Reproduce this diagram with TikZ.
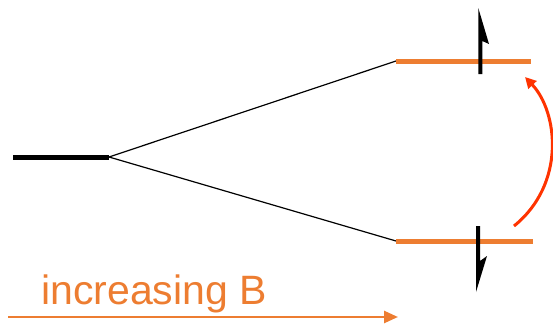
\documentclass[tikz,border=0pt]{standalone}
\usepackage{fontspec}
\setmainfont{Liberation Sans}
\usetikzlibrary{arrows.meta}
\definecolor{lvlorange}{HTML}{ED7D31}
\definecolor{transred}{HTML}{FF3300}
\tikzset{
  level/.style={line width=5pt},
  split/.style={line width=1.2pt, black},
  spinfill/.style={fill=black, draw=none},
  bfield/.style={line width=2.5pt, lvlorange, -{Triangle[length=14pt,width=12pt]}},
  transition/.style={line width=3pt, transred, -{Triangle[length=11pt,width=11pt]}}
}
\begin{document}
\begin{tikzpicture}[x=1pt,y=-1pt]
\useasboundingbox (0,0) rectangle (553,324);
% level coordinates
\coordinate (g0) at (13,157);
\coordinate (g1) at (109,157);
\coordinate (u0) at (396,61);
\coordinate (u1) at (531,61);
\coordinate (d0) at (396,241);
\coordinate (d1) at (533,241);
% ground level and splitting
\draw[level, black] (g0) -- (g1);
\draw[split] (g1) -- (u0);
\draw[split] (g1) -- (d0);
\draw[level, lvlorange] (u0) -- (u1);
\draw[level, lvlorange] (d0) -- (d1);
% spin up arrow
\fill[spinfill] (478.3,8) -- (489,44) -- (482.3,41) -- (482.3,74) -- (478.3,74) -- cycle;
% spin down arrow
\fill[spinfill] (476,226) -- (480,226) -- (480,261) -- (487,256) -- (476,292) -- cycle;
% transition arrow
\coordinate (t0) at (514,226);
\coordinate (t1) at (525,77);
\draw[transition] (t0) .. controls (566,184) and (558,112) .. (t1);
% increasing B
\coordinate (b0) at (8,317);
\coordinate (b1) at (398,317);
\draw[bfield] (b0) -- (b1);
\node[anchor=base west, inner sep=0pt, text=lvlorange, font=\fontsize{41}{45}\selectfont] (lbl) at (41,304) {increasing B};
\end{tikzpicture}
\end{document}
